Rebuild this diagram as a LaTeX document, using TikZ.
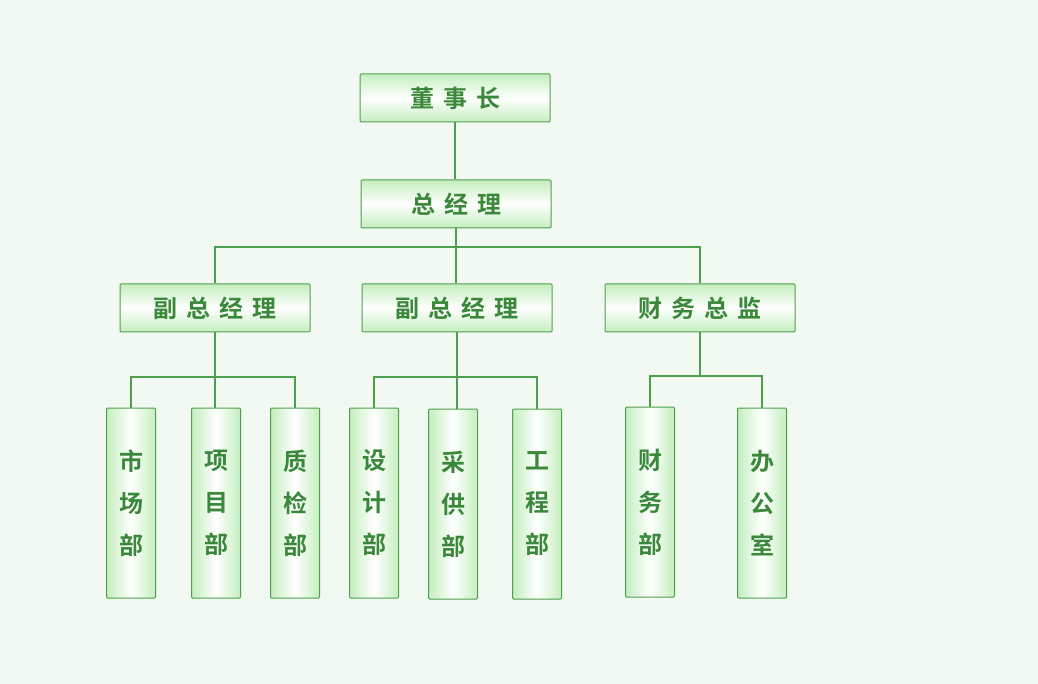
\documentclass[tikz,border=0pt]{standalone}
\usepackage{fontspec}
\usepackage{tikz}
\newfontfamily\cjk{Noto Sans CJK SC}[BoldFont={Noto Sans CJK SC Bold}]
\definecolor{bgcol}{HTML}{F2F9F2}
\definecolor{edgecol}{HTML}{4F9F4F}
\definecolor{fillcol}{HTML}{C4EEBE}
\definecolor{textcol}{HTML}{3A883A}
\definecolor{linecol}{HTML}{4E9E4E}
\newcommand{\gap}{\hspace{9pt}}

\begin{document}
\begin{tikzpicture}[x=1pt,y=-1pt,
        hbox/.style={draw=edgecol, line width=1pt, rounded corners=1pt,
          top color=fillcol, bottom color=fillcol, middle color=white,
          minimum width=190pt, minimum height=48pt, inner sep=0pt,
          text=textcol, font=\cjk\bfseries\fontsize{24}{24}\selectfont},
        vbox/.style={draw=edgecol, line width=1pt, rounded corners=1pt,
          left color=fillcol, right color=fillcol, middle color=white,
          minimum width=49pt, minimum height=190pt, inner sep=0pt,
          text=textcol, align=center, font=\cjk\bfseries\fontsize{24}{42}\selectfont},
        link/.style={draw=linecol, line width=1.6pt}]
        % 背景
        \fill[bgcol] (0,0) rectangle (1038,684);
        \useasboundingbox (0,0) rectangle (1038,684);

        % 上两层
        \node[hbox] (chairman) at (455,98) {董\gap 事\gap 长};
        \node[hbox] (gm) at (456,204) {总\gap 经\gap 理};

        % 第三层
        \node[hbox] (vpa) at (215,308) {副\gap 总\gap 经\gap 理};
        \node[hbox] (vpb) at (457,308) {副\gap 总\gap 经\gap 理};
        \node[hbox] (cfo) at (700,308) {财\gap 务\gap 总\gap 监};

        % 各部门
        \node[vbox] (market) at (131,503) {市\\场\\部};
        \node[vbox] (project) at (216,503) {项\\目\\部};
        \node[vbox] (quality) at (295,503) {质\\检\\部};
        \node[vbox] (design) at (374,503) {设\\计\\部};
        \node[vbox] (purchase) at (453,504) {采\\供\\部};
        \node[vbox] (engineering) at (537,504) {工\\程\\部};
        \node[vbox] (finance) at (650,502) {财\\务\\部};
        \node[vbox] (office) at (762,503) {办\\公\\室};

        % 连线
        \coordinate (busa) at (456,247);
        \coordinate (busb) at (215,377);
        \coordinate (busc) at (457,377);
        \coordinate (busd) at (700,376);
        \draw[link] (chairman.south) -- (chairman.south |- gm.north);
        \draw[link] (gm.south) -- (gm.south |- vpb.north);
        \draw[link, line width=1.2pt] (vpa.north) |- (busa) -| (cfo.north);
        \draw[link] (vpa.south) -- (vpa.south |- project.north);
        \draw[link] (market.north) |- (busb) -| (quality.north);
        \draw[link] (vpb.south) -- (vpb.south |- purchase.north);
        \draw[link, line width=2pt] (design.north) |- (busc) -| (engineering.north);
        \draw[link, line width=1.2pt] (cfo.south) -- (busd);
        \draw[link] (finance.north) |- (busd) -| (office.north);
\end{tikzpicture}
\end{document}
